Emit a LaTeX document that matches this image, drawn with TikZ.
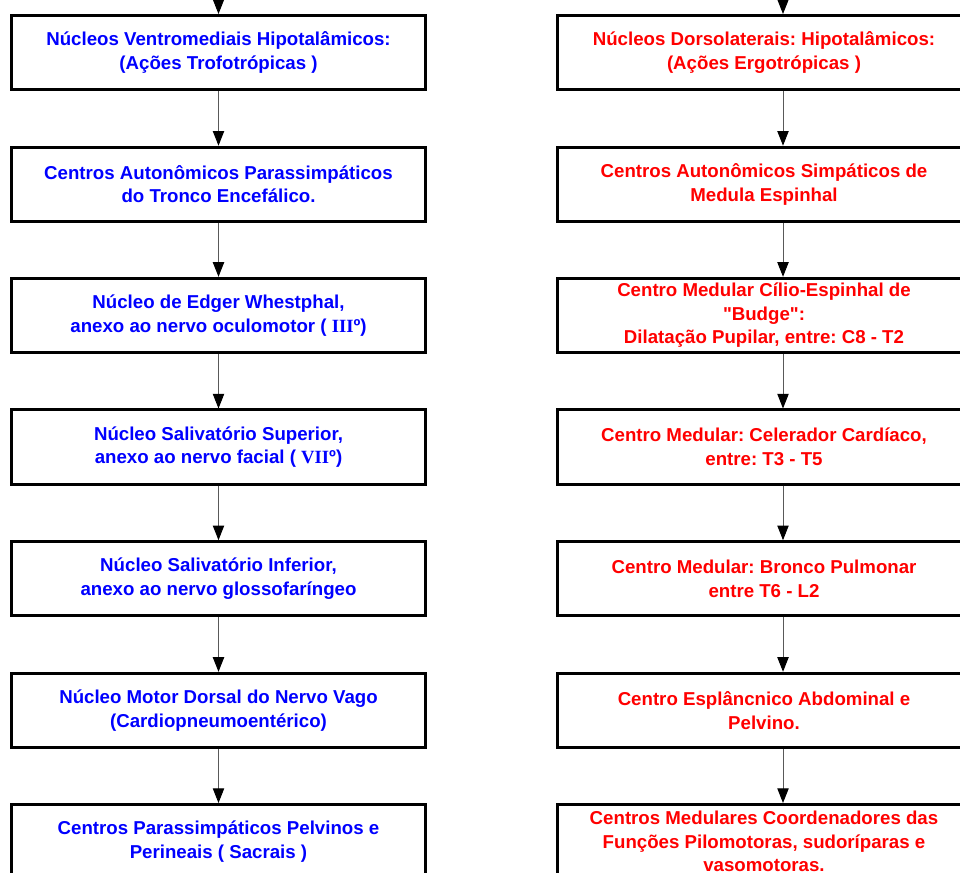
\documentclass[tikz,border=0pt]{standalone}
\usepackage{fontspec}
\newfontfamily\bodyfont{Liberation Sans}
\newfontfamily\romanno{Liberation Serif}
\usetikzlibrary{arrows.meta}

\tikzset{
  box/.style={draw=black, line width=2.25pt, fill=white, inner sep=0pt,
    minimum height=55.5pt, minimum width=310.5pt},
  txt/.style={align=center,
    font=\bodyfont\fontsize{14}{17.8}\selectfont\bfseries\frenchspacing,
    fill=white, inner xsep=3pt, inner ysep=0pt},
  ltxt/.style={txt, text=blue},
  rtxt/.style={txt, text=red},
  flow/.style={draw=black!65, line width=0.75pt,
    -{Triangle[width=8.5pt,length=11pt,color=black]}},
}

\begin{document}
\begin{tikzpicture}[x=0.75pt, y=-0.75pt]
  \useasboundingbox (0,0) rectangle (960,873);
  \clip (0,0) rectangle (960,873);
  \fill[white] (0,0) rectangle (960,873);

  % box frames, left (parasympathetic) and right (sympathetic) columns
  \foreach \i/\y in {1/52.5, 2/184.2, 3/315.3, 4/447, 5/578.7, 6/710.3, 7/841.5} {
    \node[box] (L\i) at (218.5,\y) {};
    \node[box] (R\i) at (764,\y) {};
  }

  % left column texts
  \node[ltxt] at (L1) {Núcleos Ventromediais Hipotalâmicos:\\(Ações Trofotrópicas )};
  \node[ltxt] at (L2) {Centros Autonômicos Parassimpáticos\\do Tronco Encefálico.};
  \node[ltxt] at (L3) {Núcleo de Edger Whestphal,\\anexo ao nervo oculomotor ( {\romanno III}º)};
  \node[ltxt] at (L4) {Núcleo Salivatório Superior,\\anexo ao nervo facial ( {\romanno VII}º)};
  \node[ltxt] at (L5) {Núcleo Salivatório Inferior,\\anexo ao nervo glossofaríngeo};
  \node[ltxt] at (L6) {Núcleo Motor Dorsal do Nervo Vago\\(Cardiopneumoentérico)};
  \node[ltxt] at (L7) {Centros Parassimpáticos Pelvinos e\\Perineais ( Sacrais )};

  % right column texts
  \node[rtxt] at (R1) {Núcleos Dorsolaterais: Hipotalâmicos:\\(Ações Ergotrópicas )};
  \node[rtxt] at (R2) {Centros Autonômicos Simpáticos de\\Medula Espinhal};
  \node[rtxt] at (R3) {Centro Medular Cílio-Espinhal de\\"Budge":\\Dilatação Pupilar, entre: C8 - T2};
  \node[rtxt] at (R4) {Centro Medular: Celerador Cardíaco,\\entre: T3 - T5};
  \node[rtxt] at (R5) {Centro Medular: Bronco Pulmonar\\entre T6 - L2};
  \node[rtxt] at (R6) {Centro Esplâncnico Abdominal e\\Pelvino.};
  \node[rtxt] at (R7) {Centros Medulares Coordenadores das\\Funções Pilomotoras, sudoríparas e\\vasomotoras.};

  % incoming connectors from above; the right column enters off-centre
  \coordinate (Lin) at (218.5,-10);
  \coordinate (Rin) at (783,-10);
  \draw[flow] (Lin) -- (L1.north);
  \draw[flow] (Rin) -- (R1.north -| Rin);

  % connectors down each column
  \foreach \a/\b in {1/2, 2/3, 3/4, 4/5, 5/6, 6/7} {
    \draw[flow] (L\a.south) -- (L\b.north);
    \draw[flow] (R\a.south -| Rin) -- (R\b.north -| Rin);
  }
\end{tikzpicture}
\end{document}
